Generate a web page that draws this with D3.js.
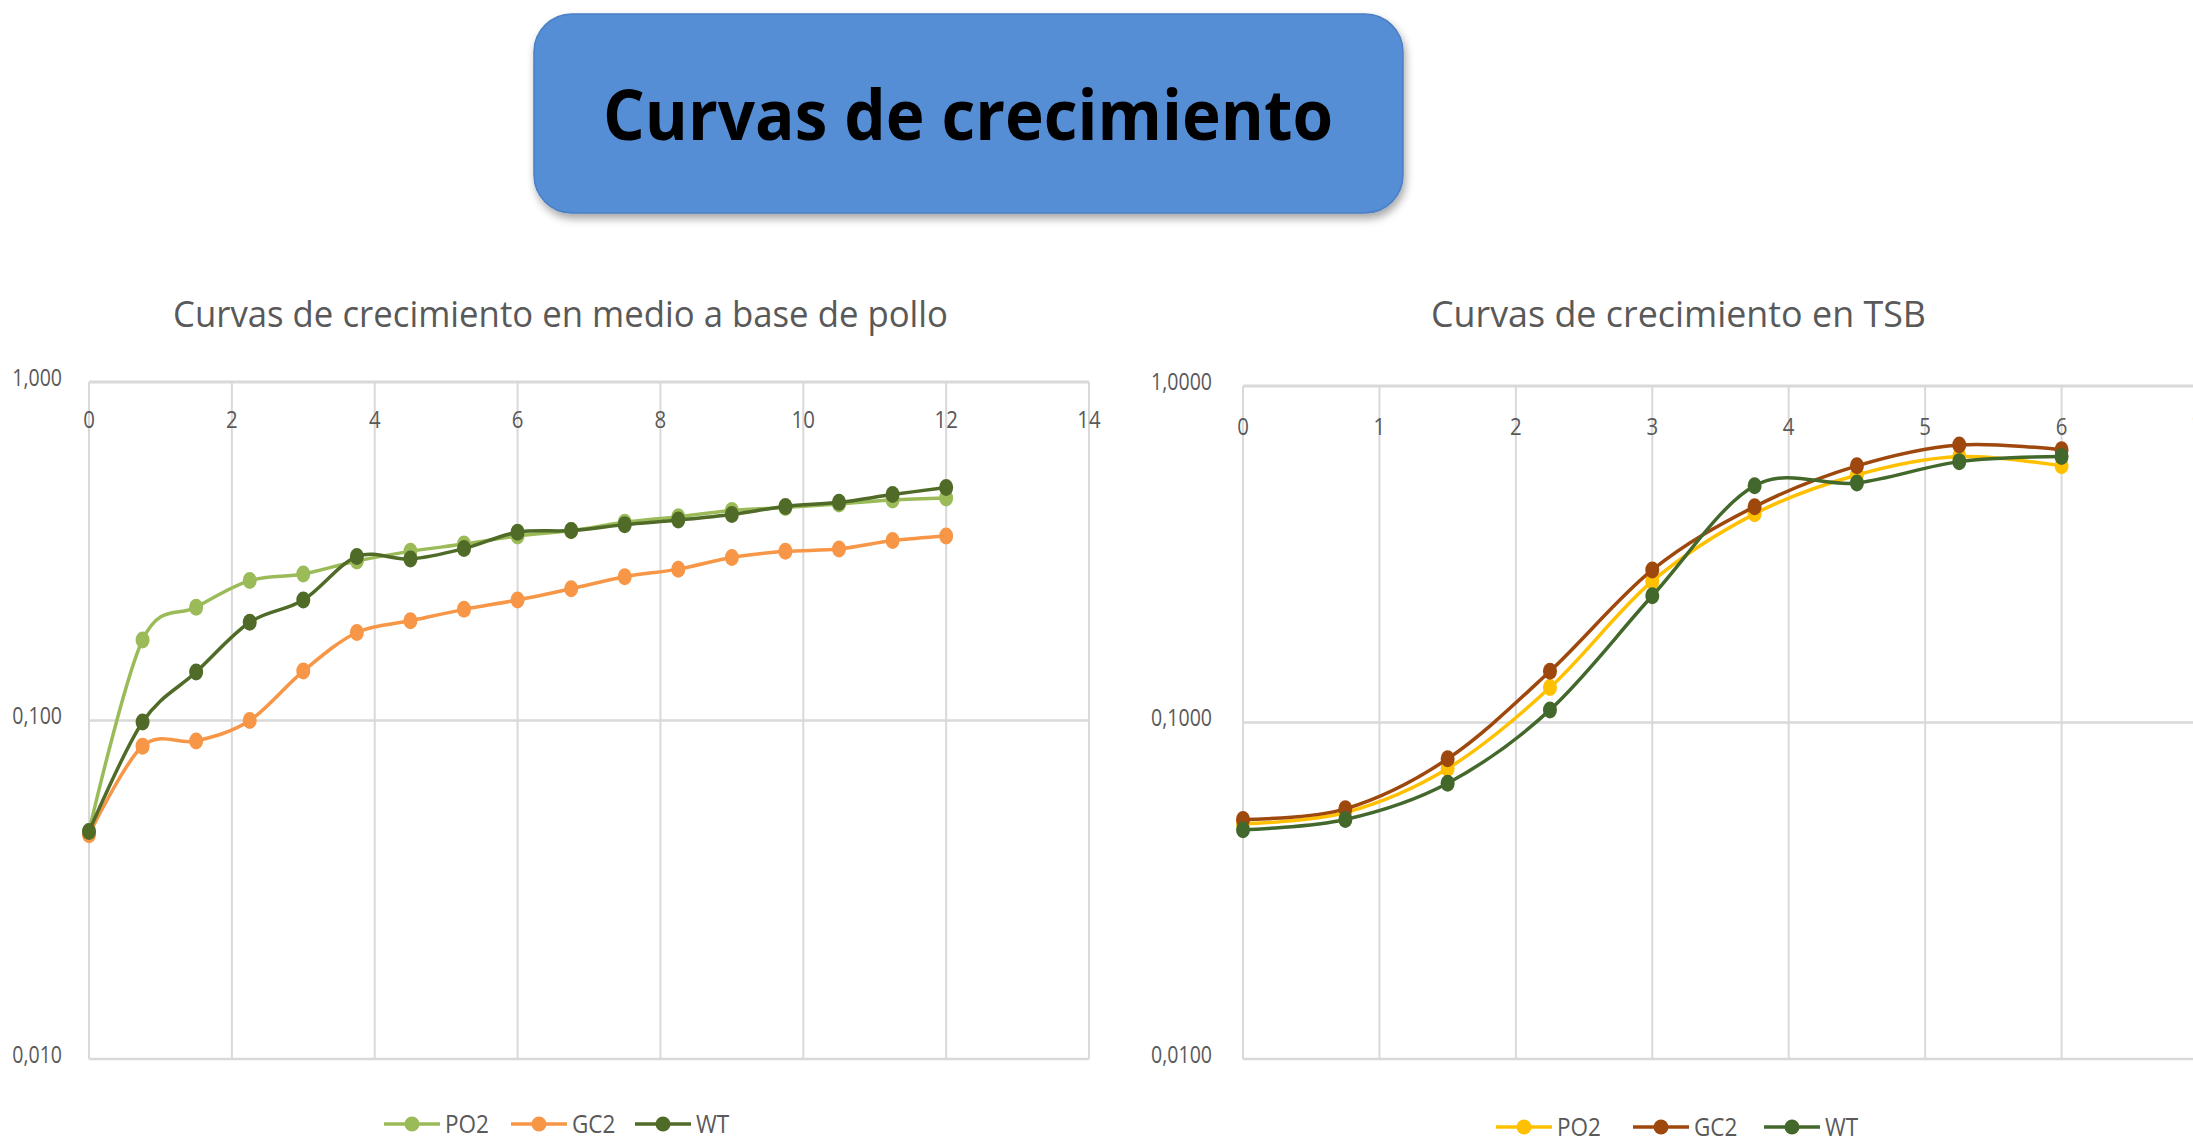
<!DOCTYPE html>
<html>
<head>
<meta charset="utf-8">
<script src="https://cdn.jsdelivr.net/npm/d3@7"></script>
<style>
     html, body { margin: 0; padding: 0; background: #ffffff; }
     svg { display: block; font-family: 'Open Sans', 'Noto Sans', sans-serif; }
</style>
</head>
<body>
<svg id="slide" width="2193" height="1144"></svg>
<script>
// hours of culture
const hours_pollo = [0, 0.75, 1.5, 2.25, 3, 3.75, 4.5, 5.25, 6, 6.75, 7.5, 8.25, 9, 9.75, 10.5, 11.25, 12];
const po2_pollo = [0.047, 0.173, 0.216, 0.259, 0.271, 0.296, 0.316, 0.332, 0.351, 0.364, 0.385, 0.400, 0.417, 0.426, 0.436, 0.448, 0.454];
const gc2_pollo = [0.046, 0.084, 0.087, 0.100, 0.140, 0.182, 0.197, 0.213, 0.227, 0.245, 0.266, 0.280, 0.303, 0.316, 0.321, 0.340, 0.351];
const wt_pollo = [0.047, 0.099, 0.139, 0.195, 0.227, 0.305, 0.300, 0.322, 0.360, 0.364, 0.379, 0.391, 0.406, 0.429, 0.441, 0.465, 0.488];

const hours_tsb = [0, 0.75, 1.5, 2.25, 3, 3.75, 4.5, 5.25, 6];
const po2_tsb = [0.050, 0.054, 0.073, 0.127, 0.263, 0.417, 0.544, 0.617, 0.579];
const gc2_tsb = [0.0515, 0.0554, 0.078, 0.142, 0.284, 0.438, 0.579, 0.668, 0.646];
const wt_tsb = [0.048, 0.0515, 0.066, 0.109, 0.238, 0.505, 0.515, 0.596, 0.617];

const x_ticks_pollo = [0, 2, 4, 6, 8, 10, 12, 14];
const x_ticks_tsb = [0, 1, 2, 3, 4, 5, 6, 7];
const y_ticks = [0.01, 0.1, 1];
const series_names = ['PO2', 'GC2', 'WT'];

const grid_color = '#d9d9d9';
const text_color = '#595959';

var svg = d3.select('#slide');

// banner with drop shadow
var defs = svg.append('defs');
defs.append('filter')
     .attr('id', 'shadow')
     .attr('x', '-10%').attr('y', '-10%')
     .attr('width', '120%').attr('height', '130%')
     .append('feDropShadow')
     .attr('dx', 2).attr('dy', 5)
     .attr('stdDeviation', 4)
     .attr('flood-color', '#000')
     .attr('flood-opacity', 0.35);

svg.append('rect')
     .attr('x', 534).attr('y', 14)
     .attr('width', 869).attr('height', 199)
     .attr('rx', 38).attr('ry', 38)
     .attr('fill', '#558ED5')
     .attr('stroke', '#4a7fc4')
     .attr('stroke-width', 1.5)
     .attr('filter', 'url(#shadow)');

svg.append('text')
     .attr('x', 968).attr('y', 140)
     .attr('text-anchor', 'middle')
     .attr('font-size', 70)
     .attr('font-weight', 'bold')
     .attr('fill', '#000')
     .attr('textLength', 730)
     .attr('lengthAdjust', 'spacingAndGlyphs')
     .text('Curvas de crecimiento');

// squeeze a text horizontally around its anchor x
function squeeze(x, k) {
     return 'translate(' + x + ',0) scale(' + k + ',1) translate(' + (-x) + ',0)';
}

function drawChart(opts) {
     const x_scale = d3.scaleLinear()
          .domain([opts.x_ticks[0], opts.x_ticks[opts.x_ticks.length - 1]])
          .range([opts.left, opts.right]);
     const y_scale = d3.scaleLog()
          .domain([0.01, 1])
          .range([opts.bottom, opts.top]);

     const g = svg.append('g');

     // title
     g.append('text')
          .attr('x', opts.title_x).attr('y', 327)
          .attr('font-size', 37)
          .attr('fill', text_color)
          .attr('textLength', opts.title_len)
          .attr('lengthAdjust', 'spacingAndGlyphs')
          .text(opts.title);

     // vertical gridlines
     g.append('g').selectAll('line')
          .data(opts.x_ticks)
          .enter()
          .append('line')
          .attr('x1', d => x_scale(d)).attr('x2', d => x_scale(d))
          .attr('y1', opts.top).attr('y2', opts.bottom)
          .attr('stroke', grid_color)
          .attr('stroke-width', 2);

     // horizontal gridlines
     g.append('g').selectAll('line')
          .data(y_ticks)
          .enter()
          .append('line')
          .attr('x1', opts.left).attr('x2', Math.min(x_scale.range()[1], 2193))
          .attr('y1', d => y_scale(d)).attr('y2', d => y_scale(d))
          .attr('stroke', grid_color)
          .attr('stroke-width', d => d === 1 ? 3 : 2.5);

     // x tick labels sit under the top line (axis crosses at 1)
     g.append('g').selectAll('text')
          .data(opts.x_ticks)
          .enter()
          .append('text')
          .attr('x', d => x_scale(d))
          .attr('y', opts.top + opts.x_label_dy)
          .attr('text-anchor', 'middle')
          .attr('font-size', 24)
          .attr('fill', text_color)
          .attr('transform', d => squeeze(x_scale(d), 0.85))
          .text(d => d);

     // y tick labels
     const fmt = v => v.toFixed(opts.decimals).replace('.', ',');
     const yl = opts.left - opts.y_label_gap;
     g.append('g').selectAll('text')
          .data(y_ticks)
          .enter()
          .append('text')
          .attr('x', yl)
          .attr('y', d => y_scale(d) + 4)
          .attr('text-anchor', 'end')
          .attr('font-size', 23)
          .attr('fill', text_color)
          .attr('transform', squeeze(yl, 0.85))
          .text(fmt);

     const line = d3.line()
          .x(d => x_scale(d[0]))
          .y(d => y_scale(d[1]))
          .curve(d3.curveCatmullRom.alpha(0));

     opts.series.forEach(s => {
          const pts = opts.hours.map((h, i) => [h, s.values[i]]);
          g.append('path')
               .datum(pts)
               .attr('d', line)
               .attr('fill', 'none')
               .attr('stroke', s.color)
               .attr('stroke-width', 3.5)
               .attr('stroke-linejoin', 'round');
          g.append('g').selectAll('ellipse')
               .data(pts)
               .enter()
               .append('ellipse')
               .attr('cx', d => x_scale(d[0]))
               .attr('cy', d => y_scale(d[1]))
               .attr('rx', 7)
               .attr('ry', 8.5)
               .attr('fill', s.color);
     });

     // legend
     const lg = g.append('g');
     opts.series.forEach((s, i) => {
          const lx = opts.legend_x[i];
          lg.append('line')
               .attr('x1', lx).attr('x2', lx + 56)
               .attr('y1', opts.legend_y).attr('y2', opts.legend_y)
               .attr('stroke', s.color)
               .attr('stroke-width', 3.5);
          lg.append('circle')
               .attr('cx', lx + 28).attr('cy', opts.legend_y)
               .attr('r', 7.5)
               .attr('fill', s.color);
          lg.append('text')
               .attr('x', lx + 61).attr('y', opts.legend_y + 9)
               .attr('font-size', 25)
               .attr('fill', text_color)
               .attr('transform', squeeze(lx + 61, 0.9))
               .text(series_names[i]);
     });
}

drawChart({
     title: 'Curvas de crecimiento en medio a base de pollo',
     title_x: 173, title_len: 775,
     hours: hours_pollo,
     x_ticks: x_ticks_pollo,
     left: 89, right: 1089, top: 382, bottom: 1059,
     x_label_dy: 46, y_label_gap: 27, decimals: 3,
     series: [
          { values: po2_pollo, color: '#9BBB59' },
          { values: gc2_pollo, color: '#F79646' },
          { values: wt_pollo, color: '#4F6B27' }
     ],
     legend_x: [384, 511, 635], legend_y: 1124
});

drawChart({
     title: 'Curvas de crecimiento en TSB',
     title_x: 1431, title_len: 495,
     hours: hours_tsb,
     x_ticks: x_ticks_tsb,
     left: 1243, right: 2198, top: 386, bottom: 1059,
     x_label_dy: 49, y_label_gap: 31, decimals: 4,
     series: [
          { values: po2_tsb, color: '#FFC000' },
          { values: gc2_tsb, color: '#9E480E' },
          { values: wt_tsb, color: '#43682B' }
     ],
     legend_x: [1496, 1633, 1764], legend_y: 1127
});
</script>
</body>
</html>
